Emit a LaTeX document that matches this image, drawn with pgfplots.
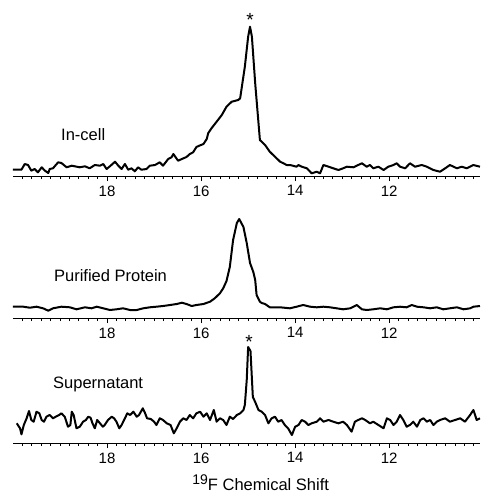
\documentclass[border=0pt]{standalone}
\usepackage{pgfplots}
\pgfplotsset{compat=1.18}
\usepackage{fontspec}
\setmainfont{Liberation Sans}
\pgfplotsset{
  spec/.style={
    scale only axis, width=467pt,
    x dir=reverse, xmin=10.07, xmax=20.0, ymin=0,
    axis x line=bottom, hide y axis,
    axis line style={-, line width=1pt, black},
    xtick={12,14,16,18},
    minor xtick={10.2,10.4,10.6,10.8,11,11.2,11.4,11.6,11.8,12.2,12.4,12.6,12.8,13,13.2,13.4,13.6,13.8,14.2,14.4,14.6,14.8,15,15.2,15.4,15.6,15.8,16.2,16.4,16.6,16.8,17,17.2,17.4,17.6,17.8,18.2,18.4,18.6,18.8,19,19.2,19.4,19.6,19.8},
    tick align=outside, major tick length=5pt, minor tick length=3pt,
    tick style={black, line width=0.8pt},
    xticklabel style={font=\fontsize{15}{15}\selectfont, yshift=-1pt},
    /pgf/number format/assume math mode=true,
    clip=false,
  },
  trace/.style={black, line width=2pt, line join=round, mark=none},
}
\newcommand{\lab}{\fontsize{16.5}{19}\selectfont}
\newcommand{\pkstar}{\fontsize{19}{19}\selectfont *}
\begin{document}
\begin{tikzpicture}
\useasboundingbox (0,0) rectangle (480pt,-493pt);
% ---------------- In-cell
\begin{axis}[spec, at={(13pt,-176pt)}, anchor=south west, height=165pt, ymax=165]
\addplot[trace] table {
x y
20.00 6.3
19.82 6.3
19.75 12
19.68 11
19.61 5.3
19.54 7
19.47 3.7
19.39 8.7
19.32 5.3
19.25 3
19.22 7
19.15 7.7
19.04 13.7
18.97 13
18.86 8.7
18.75 10.3
18.58 8.7
18.47 9.7
18.37 7.7
18.26 11
18.15 10.3
18.08 12
18.01 7
17.94 9.7
17.83 14.3
17.76 10.3
17.69 7
17.62 12
17.55 6.3
17.48 7.7
17.41 4.7
17.34 8.7
17.27 6.3
17.16 7
17.09 10.3
16.98 11
16.88 13.7
16.81 10.3
16.70 17
16.63 18.7
16.59 22
16.49 15.3
16.41 17
16.31 19
16.24 22
16.17 23.7
16.10 29
16.02 30.7
15.95 32
15.88 37
15.85 42.7
15.78 47.7
15.67 54.3
15.56 61
15.46 69.3
15.35 74.3
15.21 76
15.17 77.7
15.07 109.3
15.00 139.3
14.96 149.3
14.92 139.3
14.85 92.7
14.75 36
14.64 31
14.54 24.3
14.43 19.3
14.32 14.3
14.25 12.7
14.18 11
14.11 11
13.97 9.3
13.93 11
13.86 9.3
13.75 7.7
13.65 2.7
13.54 4.3
13.47 2.7
13.40 11
13.29 9.3
13.19 7.7
13.08 6
12.98 7.7
12.90 9.3
12.76 8.7
12.66 11
12.58 12.7
12.48 9.3
12.41 11
12.34 7.7
12.23 9.3
12.12 6
12.02 9.3
11.91 11
11.84 12.7
11.77 9.3
11.66 7.7
11.56 12.7
11.45 9.3
11.31 11
11.20 9.3
11.06 6
10.92 4.3
10.81 7.7
10.71 11
10.56 7.7
10.46 9.3
10.35 7.7
10.21 11
10.07 9.3
};
\node at (axis cs:14.96,156) {\pkstar};
\node[anchor=west, inner sep=0pt] at (axis cs:18.98,41) {\lab In-cell};
\end{axis}
% ---------------- Purified protein
\begin{axis}[spec, at={(13pt,-318pt)}, anchor=south west, height=110pt, ymax=110]
\addplot[trace] table {
x y
20.00 11.3
19.78 11.3
19.64 10.3
19.50 11.3
19.36 9.7
19.25 7.3
19.15 9.7
18.97 11.3
18.79 10.7
18.65 8.7
18.47 10.7
18.33 9.7
18.22 11.3
18.08 9.7
17.94 8
17.80 8.7
17.66 9.7
17.51 8
17.37 8
17.23 9.7
17.09 10.7
16.95 11.3
16.81 12
16.66 13
16.52 14
16.41 15.3
16.31 14
16.20 12
16.10 13
15.95 14
15.81 16.3
15.71 19.7
15.60 24.7
15.53 29.7
15.46 37
15.39 51
15.32 78
15.24 95
15.19 99
15.10 91
15.03 75
14.96 55
14.89 46
14.85 38
14.82 23
14.75 16.3
14.71 15
14.64 14
14.54 10.7
14.32 10.7
14.11 9.7
13.97 11.3
13.83 13
13.68 11.3
13.54 10.7
13.40 11.3
13.26 10.7
13.12 9.7
12.98 8.7
12.83 9.7
12.69 13
12.58 8.7
12.48 8
12.34 8.7
12.19 9.7
12.05 8.7
11.91 10.7
11.77 11.3
11.63 10.7
11.52 13
11.41 11.3
11.27 10.7
11.13 9.7
10.99 10.7
10.85 8.7
10.71 9.7
10.56 10.7
10.42 8.7
10.28 9.7
10.21 11.3
10.07 12
};
\node[anchor=west, inner sep=0pt] at (axis cs:19.13,42) {\lab Purified Protein};
\end{axis}
% ---------------- Supernatant
\begin{axis}[spec, at={(13pt,-443pt)}, anchor=south west, height=110pt, ymax=110]
\addplot[trace] table {
x y
19.92 19.7
19.85 14.7
19.82 8.7
19.77 18
19.71 24.7
19.66 32
19.61 23
19.56 21.3
19.50 31.3
19.44 29.7
19.39 23
19.34 21.3
19.29 26.3
19.22 28
19.15 24.7
19.09 26.3
19.02 28
18.97 29.7
18.90 26.3
18.83 16.3
18.78 18
18.75 31.3
18.71 28
18.65 14.7
18.58 16.3
18.51 21.3
18.45 23
18.40 26.3
18.35 25.3
18.31 19.7
18.26 14.7
18.21 23
18.15 19.7
18.09 16.3
18.05 18
17.98 23
17.90 26.3
17.85 24.7
17.80 21.3
17.74 14.7
17.69 18
17.62 24.7
17.57 29.7
17.51 28
17.44 31.3
17.37 26.3
17.32 28
17.24 34.7
17.19 29.7
17.15 24.7
17.07 24
17.00 21.3
16.95 18
16.88 24.7
16.81 23
16.73 19.7
16.65 18
16.58 9.7
16.52 14.7
16.45 21.3
16.38 24.7
16.31 23
16.24 28
16.17 24.7
16.10 29.7
16.02 31.3
15.95 26.3
15.88 29.7
15.81 23
15.73 33
15.67 21.3
15.60 24.7
15.53 23
15.46 18
15.39 26.3
15.32 24
15.24 28
15.17 29.7
15.10 33
15.07 38
15.03 63
15.00 96
14.95 92
14.90 46
14.85 41
14.78 33
14.71 31.3
14.64 28
14.57 19.7
14.50 24.7
14.43 26.3
14.36 21.3
14.29 23
14.22 18
14.15 14.7
14.07 8
14.00 16.3
13.93 18
13.86 23
13.79 21.3
13.72 18
13.65 19.7
13.54 21.3
13.47 24.7
13.40 21.3
13.29 23
13.19 21.3
13.08 19.7
12.98 21.3
12.90 18
12.80 11.3
12.73 21.3
12.66 23
12.58 24.7
12.51 23
12.41 19.7
12.34 21.3
12.23 18
12.12 14.7
12.05 24.7
11.98 23
11.91 18
11.84 21.3
11.77 28
11.70 23
11.63 16.3
11.56 18
11.49 21.3
11.41 16.3
11.34 23
11.27 24.7
11.20 21.3
11.13 23
11.06 18
10.99 21.3
10.92 23
10.81 24.7
10.71 21.3
10.60 23
10.49 24.7
10.39 21.3
10.28 28
10.21 33
10.14 23
10.07 24.7
};
\node at (axis cs:14.98,101) {\pkstar};
\node[anchor=west, inner sep=0pt] at (axis cs:19.15,59) {\lab Supernatant};
\node[anchor=base west, inner sep=0pt] at (axis cs:16.19,-47) {\lab\raisebox{0.32em}{\fontsize{14}{14}\selectfont 19}F Chemical Shift};
\end{axis}
\end{tikzpicture}
\end{document}
